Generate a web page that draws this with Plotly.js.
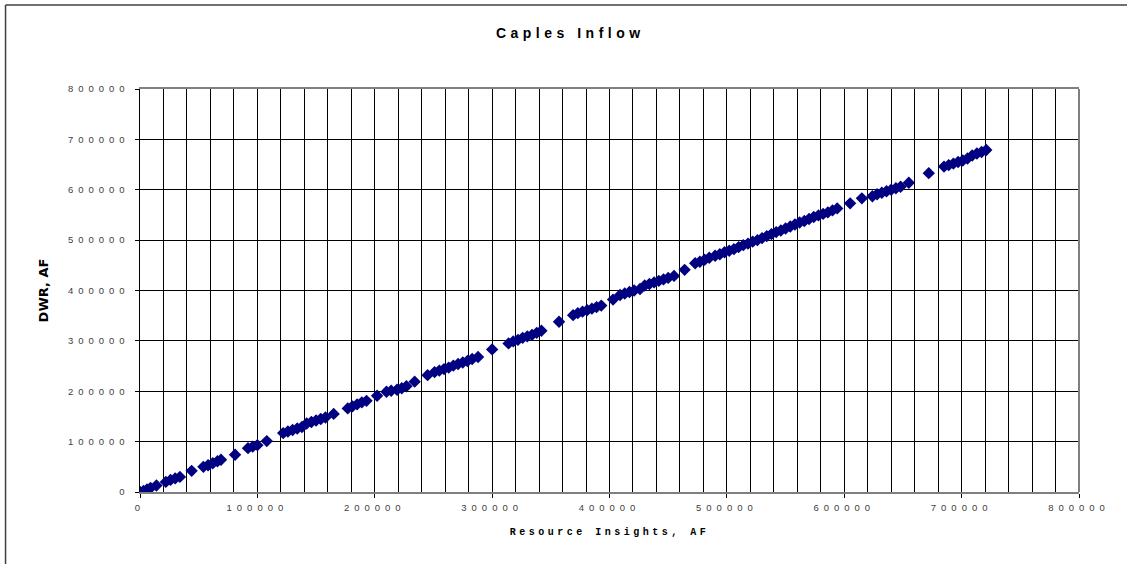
<!DOCTYPE html>
<html>
<head>
<meta charset="utf-8">
<script src="https://cdn.plot.ly/plotly-3.0.1.min.js"></script>
<style>
  html, body { margin: 0; padding: 0; background: #fff; }
  #chart { width: 1127px; height: 564px; }
  #chart .gtitle { letter-spacing: 4.5px; }
  #chart g.xtick text, #chart g.ytick text { letter-spacing: 5px; }
  #chart .g-xtitle text { letter-spacing: 3.5px; }
</style>
</head>
<body>
<div id="chart"></div>
<script>
// Resource Insights, AF
const riAF = [
  0, 3000, 6000, 9000, 14000, 22000, 26000, 30000, 34000, 44000,
  54000, 58000, 62000, 66000, 69000, 81000, 92000, 96000, 100000, 108000,
  122000, 126000, 130000, 134000, 138000, 142000, 146000, 150000, 154000, 158000,
  165000, 177000, 181000, 185000, 189000, 193000, 202000, 210000, 214000, 219000,
  223000, 227000, 234000, 245000, 251000, 255000, 259000, 263000, 267000, 271000,
  275000, 279000, 283000, 288000, 300000, 314000, 318000, 322000, 326000, 330000,
  334000, 338000, 342000, 357000, 369000, 373000, 377000, 381000, 385000, 389000,
  393000, 403000, 409000, 413000, 417000, 421000, 426000, 430000, 434000, 438000,
  442000, 446000, 450000, 455000, 464000, 473000, 477000, 481000, 485000, 490000,
  494000, 498000, 502000, 506000, 510000, 514000, 518000, 522000, 526000, 530000,
  534000, 538000, 542000, 546000, 550000, 554000, 558000, 562000, 566000, 570000,
  574000, 578000, 582000, 586000, 590000, 594000, 605000, 615000, 624000, 628000,
  632000, 636000, 640000, 644000, 648000, 655000, 672000, 685000, 689000, 693000,
  697000, 701000, 705000, 709000, 713000, 717000, 721000
];
// DWR, AF
const dwrAF = [
  0, 2000, 5000, 8000, 13000, 20000, 24000, 27000, 30000, 42000,
  50000, 53000, 57000, 61000, 64000, 74000, 87000, 90000, 93000, 101000,
  117000, 120000, 123000, 126000, 129000, 136000, 139000, 142000, 145000, 148000,
  155000, 166000, 170000, 174000, 178000, 181000, 191000, 199000, 201000, 203000,
  206000, 210000, 219000, 232000, 238000, 241000, 244000, 247000, 251000, 254000,
  257000, 260000, 264000, 268000, 283000, 295000, 299000, 302000, 306000, 309000,
  312000, 316000, 320000, 338000, 351000, 355000, 358000, 361000, 364000, 367000,
  370000, 382000, 391000, 394000, 397000, 400000, 403000, 410000, 413000, 416000,
  419000, 422000, 425000, 429000, 441000, 454000, 457000, 461000, 465000, 469000,
  472000, 476000, 479000, 482000, 486000, 490000, 493000, 497000, 500000, 504000,
  508000, 512000, 516000, 519000, 523000, 527000, 531000, 535000, 538000, 542000,
  546000, 549000, 552000, 555000, 559000, 563000, 573000, 583000, 587000, 591000,
  594000, 597000, 600000, 603000, 606000, 614000, 633000, 646000, 649000, 652000,
  655000, 658000, 662000, 668000, 672000, 675000, 679000
];

const chartTitle = 'Caples Inflow';
const xTitle = 'Resource Insights, AF';
const yTitle = 'DWR, AF';

const trace = {
  type: 'scatter',
  mode: 'markers',
  x: riAF,
  y: dwrAF,
  marker: { symbol: 'diamond', size: 9.5, color: '#000080', line: { width: 0 } },
  hoverinfo: 'x+y'
};

const tickFont = { family: 'Liberation Sans, Arial, sans-serif', size: 9.5, color: '#404040' };

const layout = {
  width: 1127,
  height: 564,
  margin: { l: 140, r: 48, t: 89, b: 72 },
  paper_bgcolor: '#ffffff',
  plot_bgcolor: '#ffffff',
  showlegend: false,
  title: {
    text: '<b>' + chartTitle + '</b>',
    font: { family: 'Liberation Sans, Arial, sans-serif', size: 14, color: '#000' },
    x: 0.506, xref: 'container', xanchor: 'center',
    y: 0.941, yref: 'container', yanchor: 'middle'
  },
  xaxis: {
    range: [0, 800000],
    dtick: 100000,
    tick0: 0,
    tickformat: 'd',
    showgrid: true,
    gridcolor: '#000000',
    gridwidth: 1,
    minor: { dtick: 20000, showgrid: true, gridcolor: '#000000', gridwidth: 1, ticks: '' },
    showline: true,
    linecolor: '#808080',
    linewidth: 2,
    mirror: true,
    ticks: 'outside',
    ticklen: 4,
    tickcolor: '#000000',
    tickfont: tickFont,
    ticklabelstandoff: 2,
    zeroline: false,
    title: {
      text: '<b>' + xTitle + '</b>',
      font: { family: 'Liberation Mono, Courier New, monospace', size: 10, color: '#000' },
      standoff: 16
    }
  },
  yaxis: {
    range: [0, 800000],
    dtick: 100000,
    tick0: 0,
    tickformat: 'd',
    showgrid: true,
    gridcolor: '#000000',
    gridwidth: 1,
    showline: true,
    linecolor: '#000000',
    linewidth: 1.5,
    ticks: 'outside',
    ticklen: 4,
    tickcolor: '#000000',
    tickfont: tickFont,
    ticklabelstandoff: 3,
    zeroline: false,
    title: {
      text: '<b>' + yTitle + '</b>',
      font: { family: 'DejaVu Sans, sans-serif', size: 13, color: '#000' },
      standoff: 46
    }
  },
  shapes: [
    { type: 'line', xref: 'paper', yref: 'paper', x0: 1, x1: 1, y0: 0, y1: 1,
      line: { color: '#808080', width: 2 } },
    { type: 'line', xref: 'paper', yref: 'paper', x0: -0.1432, x1: -0.1432, y0: -0.2, y1: 1.2083,
      line: { color: '#404040', width: 1.5 } },
    { type: 'line', xref: 'paper', yref: 'paper', x0: -0.1432, x1: 1.2, y0: 1.2083, y1: 1.2083,
      line: { color: '#404040', width: 1.5 } }
  ]
};

Plotly.newPlot('chart', [trace], layout, { displayModeBar: false, staticPlot: true });
</script>
</body>
</html>
